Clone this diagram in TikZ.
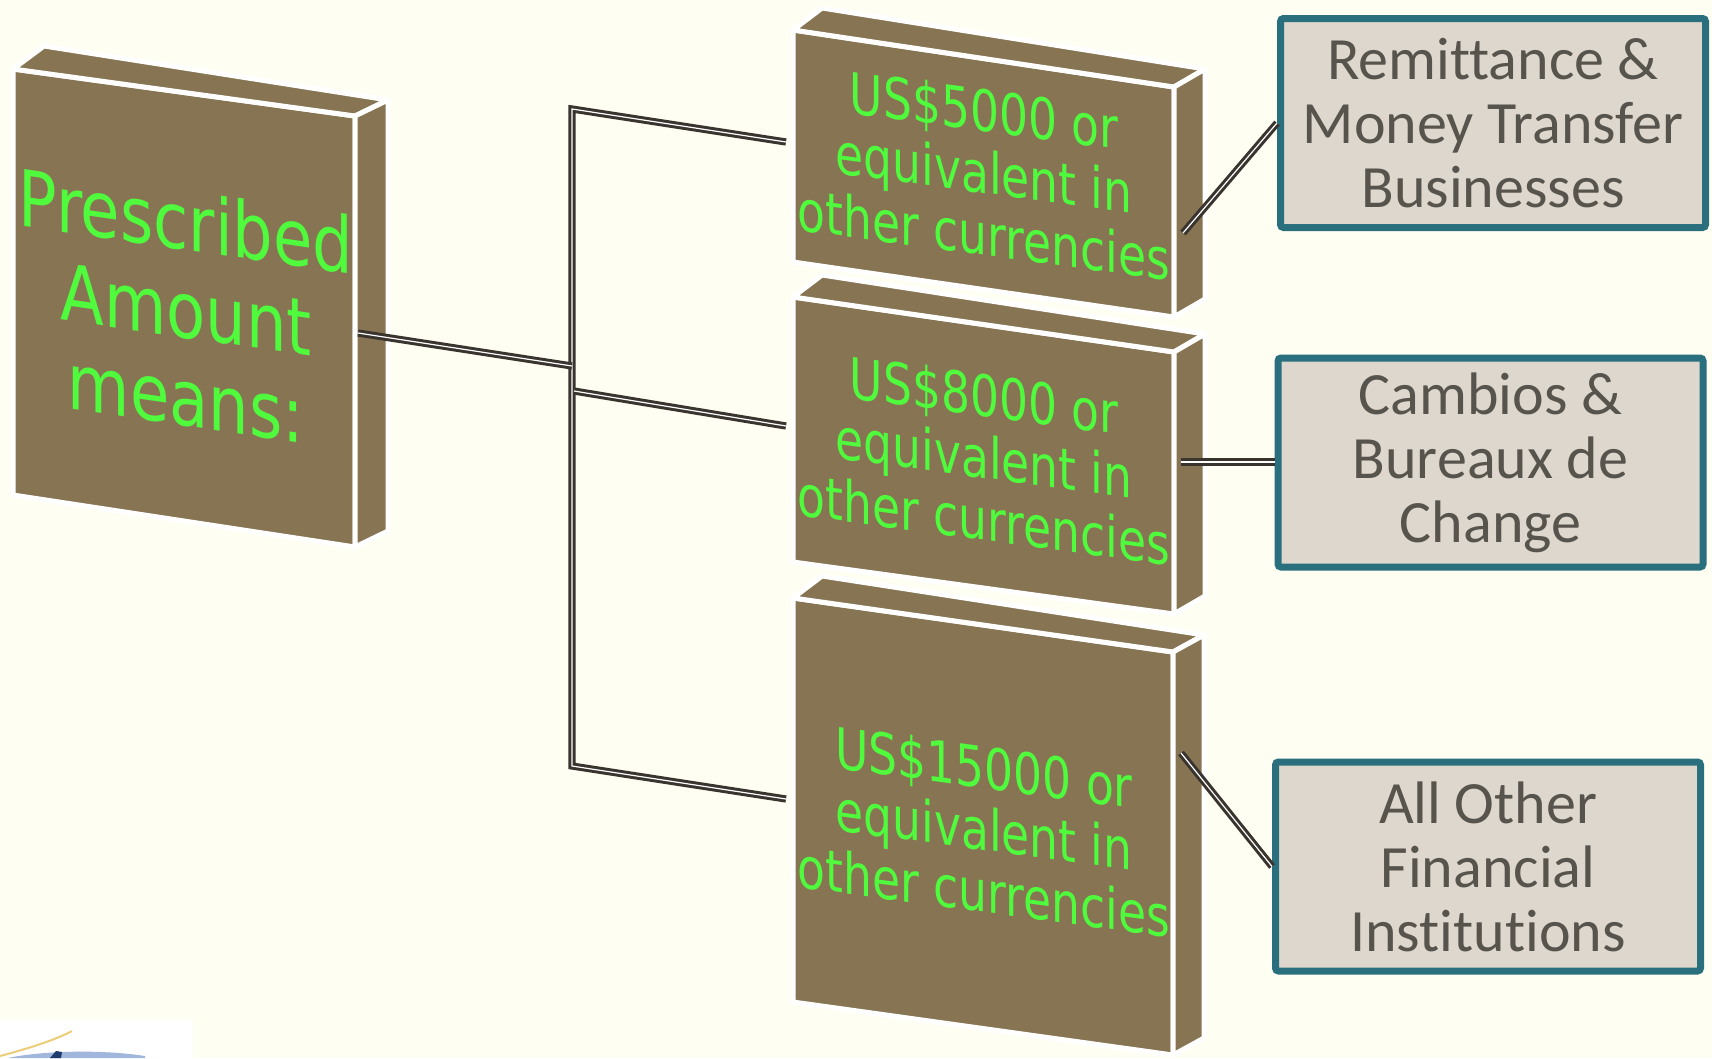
\documentclass[tikz,border=0pt]{standalone}
\usepackage{fontspec}
\newfontfamily\greenfont{DejaVu Sans}
\newfontfamily\grayfont[Ligatures=NoCommon]{Carlito}
\definecolor{bg}{RGB}{254,254,242}
\definecolor{brownbox}{RGB}{135,116,83}
\definecolor{greentxt}{RGB}{80,250,60}
\definecolor{connc}{RGB}{58,52,47}
\definecolor{grayfill}{RGB}{222,215,205}
\definecolor{tealb}{RGB}{42,111,125}
\definecolor{graytxt}{RGB}{87,83,77}
\definecolor{logoyel}{RGB}{236,205,120}
\definecolor{logoblue}{RGB}{160,182,218}
\definecolor{logodark}{RGB}{30,58,110}
\begin{document}
\begin{tikzpicture}[x=1pt,y=-1pt,
  face/.style={fill=brownbox, draw=white, line width=5pt, line join=round},
  bigtxt/.style={text=greentxt, font=\greenfont\fontsize{78}{88}\selectfont, align=center, inner sep=0pt, yslant=-0.145, xscale=0.82},
  midtxt/.style={text=greentxt, font=\greenfont\fontsize{57}{62}\selectfont, align=center, inner sep=0pt, yslant=-0.135, xscale=0.8},
  graybox/.style={fill=grayfill, draw=tealb, line width=7pt, rounded corners=3pt, minimum width=425pt, minimum height=209pt, align=center, text=graytxt, font=\grayfont\fontsize{60}{64}\selectfont, inner sep=0pt},
  conn/.style={draw=connc, line width=3pt, double=white, double distance=1.2pt}]
\useasboundingbox (0,0) rectangle (1712,1058);
\fill[bg] (0,0) rectangle (1712,1058);
% logo fragment bottom-left
\fill[white] (0,1020) rectangle (193,1058);
\fill[logoblue] (8,1058) .. controls (40,1051) and (100,1049) .. (145,1056) -- (145,1058) -- cycle;
\fill[logodark] (50,1058) -- (56,1051) -- (62,1052) -- (61,1058) -- cycle;
\draw[logoyel, line width=2pt] (0,1056) .. controls (30,1048) and (55,1040) .. (72,1031);
% left box
\path[face] (13,69) -- (355,116) -- (355,547) -- (13,495) -- cycle;
\path[face] (13,69) -- (44,46) -- (388,100) -- (355,116) -- cycle;
\path[face] (355,116) -- (388,100) -- (388,531) -- (355,547) -- cycle;
% box 1
\path[face] (793,30) -- (1174,87) -- (1174,317) -- (793,262) -- cycle;
\path[face] (793,30) -- (822,8) -- (1205,69) -- (1174,87) -- cycle;
\path[face] (1174,87) -- (1205,69) -- (1205,299) -- (1174,317) -- cycle;
% box 2
\path[face] (793,297) -- (1174,352) -- (1174,614) -- (793,562) -- cycle;
\path[face] (793,297) -- (822,275) -- (1205,334) -- (1174,352) -- cycle;
\path[face] (1174,352) -- (1205,334) -- (1205,596) -- (1174,614) -- cycle;
% box 3
\path[face] (793,598) -- (1173,652) -- (1173,1055) -- (793,1002) -- cycle;
\path[face] (793,598) -- (822,576) -- (1204,635) -- (1173,652) -- cycle;
\path[face] (1173,652) -- (1204,635) -- (1204,1038) -- (1173,1055) -- cycle;
% texts
\node[bigtxt] (tl) at (186,309) {Prescribed\\Amount\\means:};
\node[midtxt] (t1) at (984,172) {US\$5000 or\\equivalent in\\other currencies};
\node[midtxt] (t2) at (984,457) {US\$8000 or\\equivalent in\\other currencies};
\node[midtxt] (t3) at (984,829) {US\$15000 or\\equivalent in\\other currencies};
% connection points
\coordinate (lout) at (358,333);
\coordinate (jin) at (572,366);
\coordinate (jtop) at (572,109);
\coordinate (jmid) at (574,391);
\coordinate (jbot) at (572,766);
\coordinate (b1in) at (786,142);
\coordinate (b2in) at (786,426);
\coordinate (b3in) at (786,799);
\coordinate (r1) at (1183,233);
\coordinate (r2) at (1181,462);
\coordinate (r3) at (1181,753);
% gray boxes
\node[graybox] (A) at (1493,123) {Remittance \&\\Money Transfer\\Businesses};
\node[graybox] (B) at (1490.5,462.5) {Cambios \&\\Bureaux de\\Change};
\node[graybox] (C) at (1488,866.5) {All Other\\Financial\\Institutions};
% connectors
\draw[conn] (b1in) -- (jtop) -- (jbot) -- (b3in);
\draw[conn] (jmid) -- (b2in);
\draw[conn] (lout) -- (jin);
\draw[conn] (r1) -- (A.west);
\draw[conn] (r2) -- (r2 -| B.west);
\draw[conn] (r3) -- (C.west);
\end{tikzpicture}
\end{document}
